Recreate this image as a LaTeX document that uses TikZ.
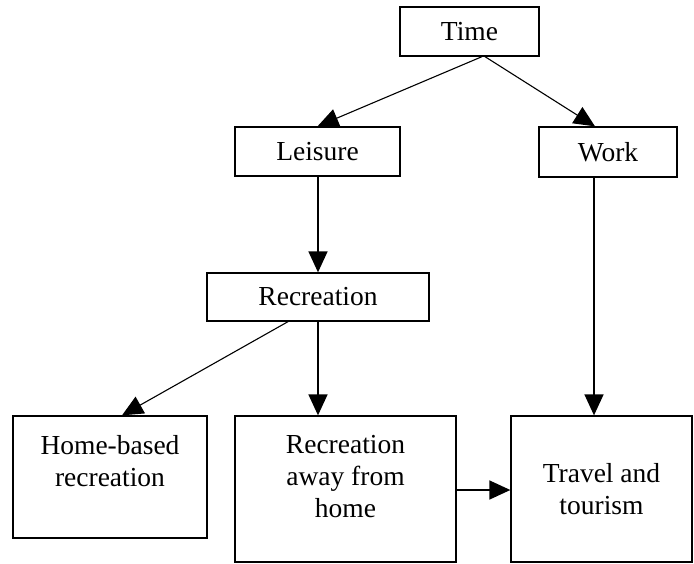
\documentclass[tikz,border=0pt]{standalone}
\usepackage{fontspec}
\setmainfont{Liberation Serif}
\usetikzlibrary{arrows.meta}
\begin{document}
\begin{tikzpicture}[x=1pt,y=-1pt,
  box/.style={draw, line width=1.3pt, fill=white, inner sep=0pt, align=center,
    font=\fontsize{27.5}{32}\selectfont},
  txt/.style={inner sep=0pt, align=center, font=\fontsize{27.5}{32}\selectfont},
  vconn/.style={line width=1.6pt, -{Triangle[length=21pt,width=19pt]}},
  dconn/.style={line width=1.1pt, -{Triangle[length=21pt,width=19pt]}}]
\useasboundingbox (0,0) rectangle (694,563);
% boxes
\node[box, minimum width=139pt, minimum height=49pt] (time) at (469.5,31.5) {Time};
\node[box, minimum width=165pt, minimum height=49pt] (leisure) at (317.5,151.5) {Leisure};
\node[box, minimum width=138pt, minimum height=50pt] (work) at (608,152) {Work};
\node[box, minimum width=222pt, minimum height=48pt] (recreation) at (318,297) {Recreation};
\node[box, minimum width=194pt, minimum height=122pt] (home) at (110,477) {};
\node[txt] (hometext) at (110,461) {Home-based\\recreation};
\node[box, minimum width=221pt, minimum height=146pt] (away) at (345.5,489) {};
\node[txt] (awaytext) at (345.5,477) {Recreation\\away from\\home};
\node[box, minimum width=181pt, minimum height=146pt] (travel) at (601.5,489) {Travel and\\tourism};
% connectors
\draw[dconn] ([xshift=12.5pt]time.south) -- (leisure.north);
\draw[dconn] ([xshift=15.5pt]time.south) -- ([xshift=-13pt]work.north);
\draw[vconn] ([xshift=0.5pt]leisure.south) -- (recreation.north);
\draw[dconn] ([xshift=-30pt]recreation.south) -- ([xshift=12pt]home.north);
\draw[vconn] (recreation.south) -- ([xshift=-27.5pt]away.north);
\draw[vconn] ([xshift=-14pt]work.south) -- ([xshift=-7.5pt]travel.north);
\draw[vconn] ([yshift=-1pt]away.east) -- ([yshift=-1pt]travel.west);
\end{tikzpicture}
\end{document}
